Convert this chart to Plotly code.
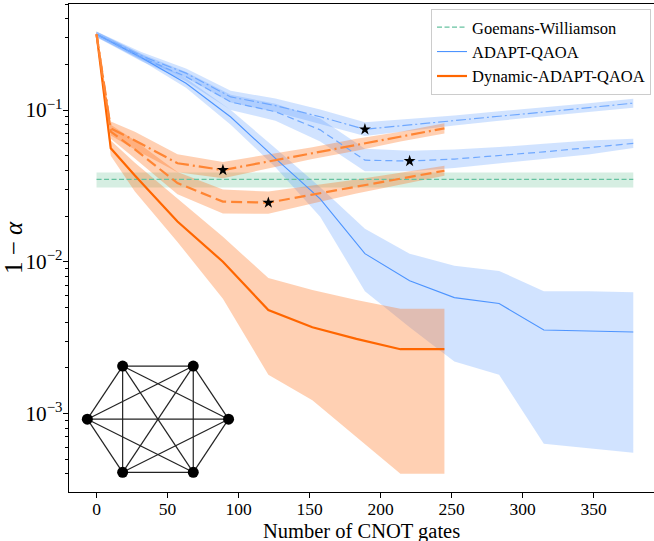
import numpy as np
import plotly.graph_objects as go

# ---------------- data ----------------
# CNOT counts after each layer
cnot_adapt = [0, 31.5, 63, 94.5, 126, 157.5, 189, 220.5, 252, 283.5, 315, 346.5, 378]
cnot_dynamic = [0, 10, 27, 57, 89, 121, 152, 183, 214, 245]

# ADAPT-QAOA: noiseless (solid) and two noisy runs (dashed, dash-dot)
adapt_ideal = [0.316, 0.222, 0.150, 0.090, 0.048, 0.026, 0.0113, 0.0075, 0.0058, 0.0053, 0.00355, 0.0035, 0.00344]
adapt_ideal_lo = [0.305, 0.212, 0.140, 0.080, 0.042, 0.0198, 0.0064, 0.0037, 0.0022, 0.0018, 0.00063, 0.00059, 0.00055]
adapt_ideal_hi = [0.328, 0.233, 0.162, 0.100, 0.056, 0.031, 0.0165, 0.0113, 0.0094, 0.0087, 0.0064, 0.0064, 0.0063]

adapt_noise_a = [0.316, 0.222, 0.166, 0.113, 0.0975, 0.074, 0.0467, 0.0461, 0.0475, 0.050, 0.053, 0.0565, 0.0603]
adapt_noise_a_lo = [0.302, 0.210, 0.155, 0.100, 0.085, 0.062, 0.0395, 0.0395, 0.0415, 0.0445, 0.0475, 0.051, 0.0563]
adapt_noise_a_hi = [0.330, 0.235, 0.178, 0.126, 0.110, 0.088, 0.0555, 0.054, 0.055, 0.057, 0.060, 0.063, 0.0646]

adapt_noise_b = [0.316, 0.228, 0.175, 0.122, 0.107, 0.0903, 0.0746, 0.080, 0.085, 0.091, 0.097, 0.104, 0.111]
adapt_noise_b_lo = [0.302, 0.215, 0.163, 0.112, 0.097, 0.081, 0.0675, 0.073, 0.079, 0.085, 0.091, 0.097, 0.1035]
adapt_noise_b_hi = [0.330, 0.241, 0.188, 0.134, 0.119, 0.101, 0.083, 0.087, 0.092, 0.098, 0.104, 0.111, 0.1185]

# Dynamic-ADAPT-QAOA: noiseless (solid) and two noisy runs (dashed, dash-dot)
dyn_ideal = [0.316, 0.056, 0.037, 0.0184, 0.0100, 0.0048, 0.0037, 0.0031, 0.00265, 0.00265]
dyn_ideal_lo = [0.302, 0.050, 0.029, 0.0135, 0.0057, 0.0018, 0.00122, 0.0007, 0.0004, 0.0004]
dyn_ideal_hi = [0.330, 0.063, 0.045, 0.026, 0.0146, 0.0078, 0.0065, 0.0056, 0.0049, 0.0049]

dyn_noise_a = [0.316, 0.072, 0.055, 0.033, 0.0249, 0.0245, 0.0277, 0.0313, 0.0353, 0.0398]
dyn_noise_a_lo = [0.302, 0.0647, 0.048, 0.0279, 0.0208, 0.0207, 0.0242, 0.0282, 0.0322, 0.0369]
dyn_noise_a_hi = [0.331, 0.0801, 0.063, 0.039, 0.0299, 0.029, 0.0318, 0.0348, 0.0386, 0.0429]

dyn_noise_b = [0.316, 0.0757, 0.063, 0.0446, 0.0402, 0.0458, 0.052, 0.059, 0.067, 0.0757]
dyn_noise_b_lo = [0.302, 0.068, 0.055, 0.0389, 0.0355, 0.0412, 0.0475, 0.0539, 0.0621, 0.0701]
dyn_noise_b_hi = [0.331, 0.084, 0.072, 0.0512, 0.0455, 0.0509, 0.0569, 0.0646, 0.0719, 0.0817]

# Goemans-Williamson reference
gw_x = [0, 378]
gw_val = 0.0349
gw_lo = 0.0309
gw_hi = 0.0388

x_ticks = [0, 50, 100, 150, 200, 250, 300, 350]
n_nodes = 6

# ---------------- styles ----------------
BLUE = "#4d94ff"
BLUE_LIGHT = "#6fa8ff"
BLUE_FILL = "rgba(77,148,255,0.26)"
ORANGE = "#ff6600"
ORANGE_LIGHT = "#ff8533"
ORANGE_FILL = "rgba(255,110,20,0.32)"
GREEN = "#66c2a0"
GREEN_FILL = "rgba(95,191,143,0.26)"
FONT = "Liberation Serif, Times New Roman, serif"

fig = go.Figure()


def add_band(x, lo, hi, fill):
    xs = list(x) + list(x)[::-1]
    ys = list(hi) + list(lo)[::-1]
    fig.add_trace(go.Scatter(x=xs, y=ys, mode="lines", fill="toself", fillcolor=fill,
                             line=dict(width=0), hoverinfo="skip", showlegend=False))


def add_line(x, y, color, width, dash, name=None, legend=False):
    fig.add_trace(go.Scatter(x=x, y=y, mode="lines", name=name, showlegend=legend,
                             legendgroup=name, line=dict(color=color, width=width, dash=dash)))


def add_star(x, y):
    i = int(np.argmin(y))
    fig.add_trace(go.Scatter(x=[x[i]], y=[y[i]], mode="markers", showlegend=False,
                             marker=dict(symbol="star", size=9, color="black")))


# shaded spreads
add_band(gw_x, [gw_lo, gw_lo], [gw_hi, gw_hi], GREEN_FILL)
add_band(cnot_adapt, adapt_noise_b_lo, adapt_noise_b_hi, BLUE_FILL)
add_band(cnot_adapt, adapt_noise_a_lo, adapt_noise_a_hi, BLUE_FILL)
add_band(cnot_adapt, adapt_ideal_lo, adapt_ideal_hi, BLUE_FILL)
add_band(cnot_dynamic, dyn_noise_b_lo, dyn_noise_b_hi, ORANGE_FILL)
add_band(cnot_dynamic, dyn_noise_a_lo, dyn_noise_a_hi, ORANGE_FILL)
add_band(cnot_dynamic, dyn_ideal_lo, dyn_ideal_hi, ORANGE_FILL)

# curves
add_line(gw_x, [gw_val, gw_val], GREEN, 1.2, "5px,2.5px", "Goemans-Williamson", True)
add_line(cnot_adapt, adapt_ideal, BLUE, 1.1, "solid", "ADAPT-QAOA", True)
add_line(cnot_dynamic, dyn_ideal, ORANGE, 2.2, "solid", "Dynamic-ADAPT-QAOA", True)
add_line(cnot_adapt, adapt_noise_a, BLUE_LIGHT, 1.2, "7px,4px")
add_line(cnot_adapt, adapt_noise_b, BLUE_LIGHT, 1.2, "10px,3px,2px,3px")
add_line(cnot_dynamic, dyn_noise_a, ORANGE_LIGHT, 2.2, "11px,5px")
add_line(cnot_dynamic, dyn_noise_b, ORANGE_LIGHT, 2.2, "14px,4px,2px,4px")

# minima of the noisy runs
add_star(cnot_adapt, adapt_noise_a)
add_star(cnot_adapt, adapt_noise_b)
add_star(cnot_dynamic, dyn_noise_a)
add_star(cnot_dynamic, dyn_noise_b)

# inset: the complete graph K6 on a circular layout
ang = np.pi * np.arange(n_nodes) / (n_nodes / 2)
nx_, ny_ = np.cos(ang), np.sin(ang)
ex, ey = [], []
for i in range(n_nodes):
    for j in range(i + 1, n_nodes):
        ex += [nx_[i], nx_[j], None]
        ey += [ny_[i], ny_[j], None]
fig.add_trace(go.Scatter(x=ex, y=ey, mode="lines", xaxis="x2", yaxis="y2", showlegend=False,
                         line=dict(color="#222222", width=1.2), hoverinfo="skip"))
fig.add_trace(go.Scatter(x=nx_, y=ny_, mode="markers", xaxis="x2", yaxis="y2", showlegend=False,
                         marker=dict(color="black", size=11), cliponaxis=False))

axis_common = dict(showline=True, linecolor="black", linewidth=1.2, mirror=True,
                   showgrid=False, zeroline=False, ticks="outside", ticklen=5,
                   tickwidth=1, tickcolor="black", automargin=False)

fig.update_layout(
    width=654, height=541,
    margin=dict(l=69, r=0, t=4, b=49),
    plot_bgcolor="white", paper_bgcolor="white",
    font=dict(family=FONT, color="black", size=18),
    xaxis=dict(range=[-19.4, 392.6], tickvals=x_ticks, ticklabelstandoff=-4,
               tickfont=dict(size=17.5), **axis_common),
    yaxis=dict(type="log", range=[-3.518, -0.301], dtick=1, exponentformat="power",
               tickfont=dict(size=17), ticklabelstandoff=-3,
               minor=dict(ticks="outside", ticklen=3, dtick="D1", tickcolor="black", showgrid=False),
               title=dict(text="1 − <i>α</i>", font=dict(size=25), standoff=3),
               **axis_common),
    xaxis2=dict(domain=[0.0072, 0.2969], range=[-1.2, 1.2], visible=False, anchor="y2"),
    yaxis2=dict(domain=[0.0109, 0.2875], range=[-1.1, 1.1], visible=False, anchor="x2"),
    legend=dict(x=0.9949, xanchor="right", y=0.99, yanchor="top",
                bordercolor="#cccccc", borderwidth=1, bgcolor="rgba(255,255,255,0.8)",
                font=dict(size=16.5, family=FONT), itemwidth=30, tracegroupgap=0),
    showlegend=True,
)

# x-axis title placed just under the tick labels
fig.add_annotation(text="Number of CNOT gates", xref="paper", yref="paper",
                   x=0.5, y=-0.0535, xanchor="center", yanchor="top", showarrow=False,
                   font=dict(size=20.5, family=FONT, color="black"))

fig.write_html("out.html")
